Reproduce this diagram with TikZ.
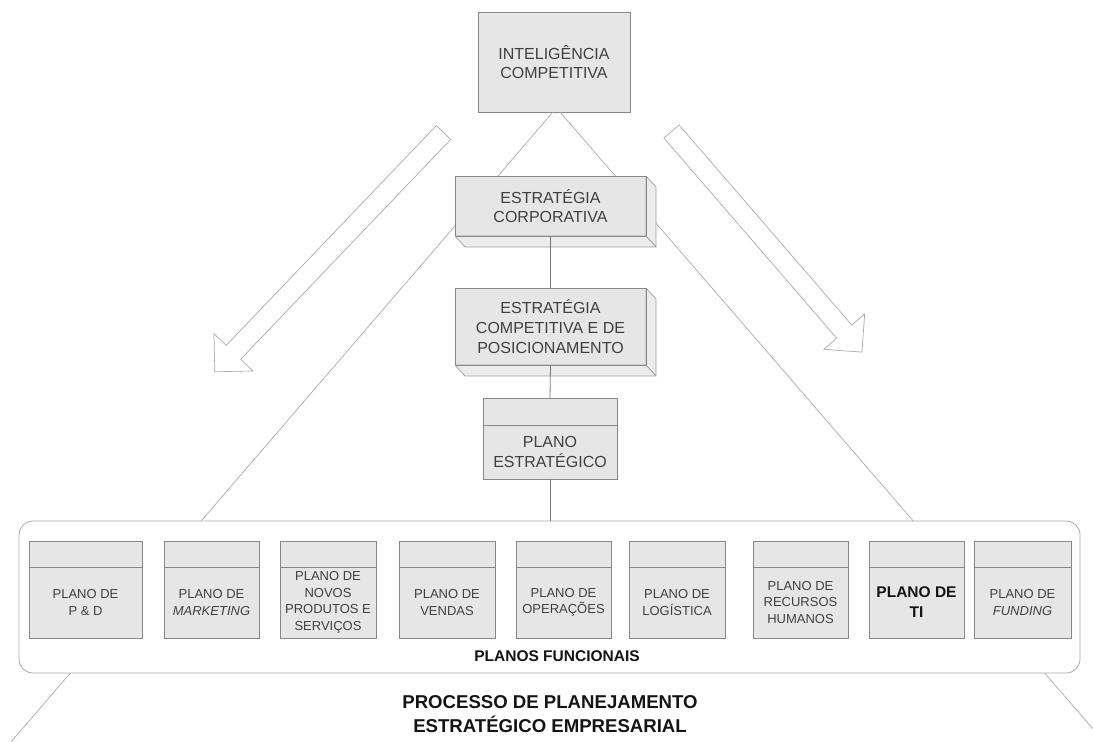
\documentclass[tikz,border=0pt]{standalone}
\usepackage{fontspec}
\setmainfont{Liberation Sans}
\usepackage{tikz}
\usetikzlibrary{positioning}
\definecolor{boxfill}{RGB}{230,230,230}
\definecolor{sidefill}{RGB}{236,236,236}
\definecolor{boxline}{RGB}{135,135,135}
\definecolor{sideline}{RGB}{160,160,160}
\definecolor{linkgray}{RGB}{120,120,120}
\definecolor{raygray}{RGB}{170,170,170}
\definecolor{boxtext}{RGB}{64,64,64}
\definecolor{titletext}{RGB}{20,20,20}

\begin{document}
\begin{tikzpicture}[x=1pt,y=-1pt,
  box/.style={draw=boxline, fill=boxfill, text=boxtext, align=center, inner sep=0pt, outer sep=0pt, line width=0.8pt},
  bigtxt/.style={font=\fontsize{16}{19.5}\selectfont},
  plantxt/.style={font=\fontsize{13}{16.5}\selectfont},
  plantxtb/.style={font=\bfseries\fontsize{15.5}{20}\selectfont, text=titletext},
  side/.style={draw=sideline, fill=sidefill, line width=0.7pt, line join=round},
  link/.style={draw=linkgray, line width=0.8pt},
  ray/.style={draw=raygray, line width=0.7pt},
  hollow/.style={draw=raygray, fill=white, line width=0.7pt, line join=miter}]
  \useasboundingbox (0,0) rectangle (1093,742);

  \node[box, bigtxt, minimum width=152, minimum height=100] (ic) at (554,62) {INTELIGÊNCIA\\COMPETITIVA};

  % triangle
  \coordinate (rayl) at (11,742);
  \coordinate (rayr) at (1093,729);
  \draw[ray] ([xshift=-1pt]ic.south) -- (rayl);
  \draw[ray] ([xshift=6pt]ic.south) -- (rayr);

  % hollow arrows
  \begin{scope}[shift={(443.5,132.5)}, rotate=226.3]
    \draw[hollow] (0,-10) -- (304,-10) -- (304,-27) -- (331,0) -- (304,27) -- (304,10) -- (0,10) -- cycle;
  \end{scope}
  \begin{scope}[shift={(671.5,131.5)}, rotate=-49.2]
    \draw[hollow] (0,-10) -- (264.4,-10) -- (264.4,-27) -- (291.4,0) -- (264.4,27) -- (264.4,10) -- (0,10) -- cycle;
  \end{scope}

  % strategy boxes
  \node[box, bigtxt, minimum width=191, minimum height=60] (corp) at (550.5,206) {ESTRATÉGIA\\CORPORATIVA};
  \node[box, bigtxt, font=\fontsize{16}{20}\selectfont, minimum width=191, minimum height=77] (comp) at (550.5,326.5) {ESTRATÉGIA\\COMPETITIVA E DE\\POSICIONAMENTO};
  \foreach \n in {corp,comp}{
    \draw[side] (\n.north east) -- ++(10,11) -- ([shift={(10,11)}]\n.south east) -- (\n.south east) -- cycle;
    \draw[side] (\n.south west) -- ([shift={(10,11)}]\n.south west) -- ([shift={(10,11)}]\n.south east) -- (\n.south east) -- cycle;
    \draw[boxline, line width=1pt] (\n.north east) -- (\n.south east) -- (\n.south west);
  }

  \node[box, font=\fontsize{16}{20}\selectfont, minimum width=134, minimum height=54] (pe) at (550,452) {PLANO\\ESTRATÉGICO};
  \node[box, minimum width=134, minimum height=27, above=0pt of pe] (pe-top) {};

  % functional plans
  \node[draw=raygray, fill=white, rounded corners=14pt, line width=0.8pt, inner sep=0pt,
        minimum width=1061, minimum height=152] (funcionais) at (549.5,597) {};
  \foreach \cx/\w/\nm/\sty/\txt in {
      85.5/113/pd/plantxt/{PLANO DE\\P \& D},
      211.5/95/mkt/plantxt/{PLANO DE\\\textit{MARKETING}},
      328/96/nps/plantxt/{PLANO DE\\NOVOS\\PRODUTOS E\\SERVIÇOS},
      447/96/vendas/plantxt/{PLANO DE\\VENDAS},
      563.5/95/oper/plantxt/{PLANO DE\\OPERAÇÕES},
      677/96/logist/plantxt/{PLANO DE\\LOGÍSTICA},
      800.5/95/rh/plantxt/{PLANO DE\\RECURSOS\\HUMANOS},
      916.5/95/ti/plantxtb/{PLANO DE\\TI},
      1022.5/97/fund/plantxt/{PLANO DE\\\textit{FUNDING}}}{
    \node[box, \sty, minimum width=\w, minimum height=71] (\nm) at (\cx,602.5) {\txt};
    \node[box, minimum width=\w, minimum height=26, above=0pt of \nm] (\nm-top) {};
  }
  \node[font=\bfseries\fontsize{15.5}{18}\selectfont, text=titletext, inner sep=0pt] (pf) at (557,656.5) {PLANOS FUNCIONAIS};

  % links
  \draw[link] (corp.south) -- (comp.north);
  \draw[link] (comp.south) -- (pe-top.north);
  \draw[link] (pe.south) -- (pe.south |- funcionais.north);

  \node[font=\bfseries\fontsize{18.6}{24.5}\selectfont, text=titletext, align=center, inner sep=0pt, anchor=north] (titulo) at (550,695) {PROCESSO DE PLANEJAMENTO\\ESTRATÉGICO EMPRESARIAL};
\end{tikzpicture}
\end{document}
